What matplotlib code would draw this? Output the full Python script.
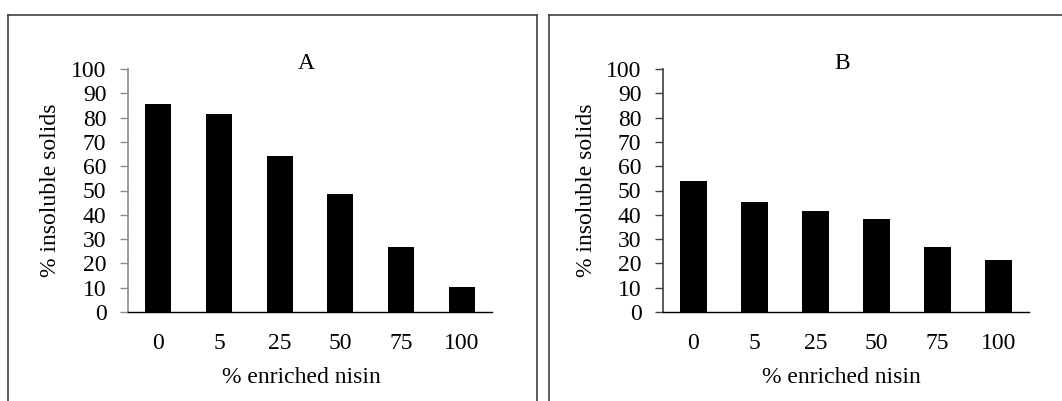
import matplotlib
matplotlib.use("Agg")
import matplotlib.pyplot as plt
from matplotlib.lines import Line2D
import numpy as np

# % insoluble solids vs % enriched nisin
nisin_labels = ["0", "5", "25", "50", "75", "100"]
solids_a = [85.6, 81.6, 64.2, 48.6, 26.8, 10.3]
solids_b = [54.0, 45.2, 41.7, 38.4, 26.7, 21.4]
panel_titles = ["A", "B"]

plt.rcParams["font.family"] = ["Liberation Serif", "DejaVu Serif"]
FS = 17

W, H = 1062, 401
fig = plt.figure(figsize=(W / 100, H / 100), dpi=100)

def px(x0, y_top, x1, y_bot):
    # pixel box -> figure fraction [left, bottom, width, height]
    return [x0 / W, 1 - y_bot / H, (x1 - x0) / W, (y_bot - y_top) / H]

ax_a = fig.add_axes(px(128, 69, 492, 312))
ax_b = fig.add_axes(px(663, 69, 1029, 312))

panels = [(ax_a, solids_a, panel_titles[0], "#8c8c8c", -0.185, 0.475),
          (ax_b, solids_b, panel_titles[1], "#404040", -0.18, 0.487)]
for ax, vals, title, ycol, ylab_x, xlab_x in panels:
    x = np.arange(len(nisin_labels))
    ax.bar(x, vals, width=0.43, color="black")
    ax.set_xlim(-0.5, len(nisin_labels) - 0.5)
    ax.set_ylim(0, 100)
    ax.set_yticks(range(0, 101, 10))
    ax.set_xticks(x)
    ax.set_xticklabels(nisin_labels)
    for s in ["top", "right"]:
        ax.spines[s].set_visible(False)
    ax.spines["left"].set_color(ycol)
    ax.spines["bottom"].set_color("black")
    ax.spines["left"].set_linewidth(1.2)
    ax.spines["bottom"].set_linewidth(1.0)
    ax.tick_params(axis="y", direction="out", length=5.5, width=1, color=ycol,
                   pad=10, labelsize=FS)
    ax.tick_params(axis="x", length=0, pad=15, labelsize=FS)
    ax.set_ylabel("% insoluble solids", fontsize=FS)
    ax.yaxis.set_label_coords(ylab_x, 0.5)
    ax.set_xlabel("% enriched nisin", fontsize=FS)
    ax.xaxis.set_label_coords(xlab_x, -0.228)
    ax.text(0.49, 1.0, title, transform=ax.transAxes, ha="center",
            va="baseline", fontsize=FS)

# panel frames (the bottoms are cut off in the original)
frame = dict(color="#404040", linewidth=1.2)
def fig_line(xs, ys):
    fig.add_artist(Line2D([v / W for v in xs], [1 - v / H for v in ys], **frame))

fig_line([8, 8], [15, 402])
fig_line([8, 537], [15, 15])
fig_line([537, 537], [15, 402])
fig_line([549, 549], [15, 402])
fig_line([549, 1063], [15, 15])

fig.savefig("out.png", dpi=100)
